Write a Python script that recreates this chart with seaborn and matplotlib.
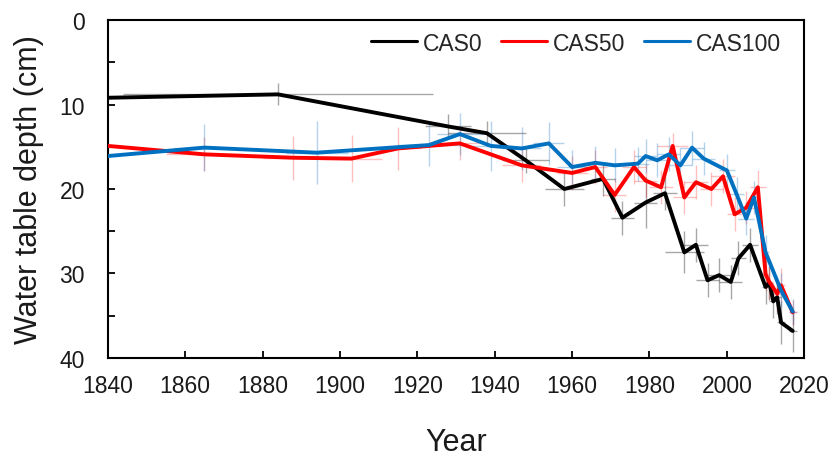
import numpy as np
import pandas as pd
import matplotlib
matplotlib.use("Agg")
import matplotlib.pyplot as plt
import seaborn as sns
from matplotlib.ticker import MultipleLocator

# ---- data ----
cas0_year = [1840, 1884, 1928, 1938, 1948, 1958, 1968, 1973, 1979, 1984, 1989, 1992,
             1995, 1998, 2001, 2003, 2006, 2010, 2011, 2012, 2013, 2014, 2017]
cas0_depth = [9.2, 8.8, 12.6, 13.4, 16.6, 20.0, 18.8, 23.4, 21.6, 20.5, 27.5, 26.6,
              30.8, 30.2, 31.0, 28.2, 26.6, 31.6, 31.1, 33.3, 32.8, 35.8, 36.8]
cas0_xerr = [0, 40, 6, 10, 6, 5, 3, 3, 3, 3, 5, 3, 3, 3, 3, 2, 2, 1, 1, 1, 1, 1, 1]
cas0_yerr = [0, 1.3, 1.5, 1.5, 1.5, 2.0, 2.0, 2.0, 3.0, 2.0, 2.5, 2.0, 2.0, 2.0, 2.0, 2.0,
             2.0, 2.0, 2.0, 2.0, 2.0, 2.5, 2.5]

cas50_year = [1840, 1865, 1888, 1903, 1915, 1931, 1947, 1960, 1966, 1971, 1976, 1979,
              1983, 1986, 1989, 1992, 1996, 1999, 2002, 2005, 2008, 2010, 2011, 2013,
              2014, 2017]
cas50_depth = [14.9, 15.9, 16.3, 16.4, 15.2, 14.6, 17.2, 18.1, 17.4, 20.7, 17.4, 19.0,
               19.8, 14.9, 21.0, 19.2, 20.0, 18.5, 23.0, 22.2, 19.8, 30.1, 31.0, 32.4,
               31.4, 34.6]
cas50_xerr = [0, 10, 8, 8, 6, 5, 5, 4, 3, 3, 3, 3, 3, 4, 3, 3, 3, 3, 2, 2, 2, 1, 1, 1, 1, 1]
cas50_yerr = [0, 2.0, 2.6, 2.8, 2.5, 2.0, 2.0, 2.0, 2.0, 2.0, 2.0, 2.0, 2.0, 1.5, 2.0, 2.0,
              2.0, 2.0, 2.0, 2.0, 2.0, 2.0, 2.0, 2.0, 2.0, 1.5]

cas100_year = [1840, 1865, 1894, 1923, 1931, 1939, 1947, 1954, 1960, 1966, 1971, 1977,
               1979, 1982, 1985, 1988, 1991, 1994, 2000, 2002.5, 2005, 2007, 2010, 2014,
               2017]
cas100_depth = [16.1, 15.1, 15.7, 14.8, 13.5, 14.9, 15.2, 14.6, 17.4, 16.9, 17.2, 17.0,
                16.1, 16.6, 15.9, 17.2, 15.1, 16.4, 17.8, 20.6, 23.5, 21.0, 27.5, 32.0,
                34.5]
cas100_xerr = [0, 8, 8, 8, 6, 6, 5, 4, 4, 3, 3, 3, 3, 3, 3, 3, 3, 3, 2, 2, 2, 1, 1, 1, 1]
cas100_yerr = [0, 2.8, 3.7, 2.5, 2.5, 3.0, 2.5, 2.5, 2.0, 2.0, 2.0, 2.0, 2.0, 2.0, 2.0,
               2.0, 2.0, 2.0, 2.0, 2.0, 2.0, 2.0, 2.0, 2.0, 1.5]

series = ["CAS0", "CAS50", "CAS100"]
colors = {"CAS0": "#000000", "CAS50": "#FF0000", "CAS100": "#0070C0"}
err_alpha = {"CAS0": 0.35, "CAS50": 0.25, "CAS100": 0.3}

df = pd.concat([
    pd.DataFrame({"Year": cas0_year, "Depth": cas0_depth, "xerr": cas0_xerr,
                  "yerr": cas0_yerr, "Series": "CAS0"}),
    pd.DataFrame({"Year": cas50_year, "Depth": cas50_depth, "xerr": cas50_xerr,
                  "yerr": cas50_yerr, "Series": "CAS50"}),
    pd.DataFrame({"Year": cas100_year, "Depth": cas100_depth, "xerr": cas100_xerr,
                  "yerr": cas100_yerr, "Series": "CAS100"}),
], ignore_index=True)

sns.set_theme(style="ticks")
plt.rcParams['font.family'] = ['Liberation Sans', 'DejaVu Sans']

fig = plt.figure(figsize=(8.35, 4.6), dpi=100)
ax = fig.add_axes([0.129, 0.2196, 0.8342, 0.7347])

# error bars (light crosses)
for s in series:
    d = df[df.Series == s]
    ax.errorbar(d.Year, d.Depth, xerr=d.xerr, yerr=d.yerr, fmt="none",
                ecolor=colors[s], alpha=err_alpha[s], elinewidth=1.0, capsize=0,
                zorder=1)

sns.lineplot(data=df, x="Year", y="Depth", hue="Series", hue_order=series,
             palette=colors, sort=False, estimator=None, linewidth=2.8,
             ax=ax, legend=False, zorder=3)

ax.set_xlim(1840, 2020)
ax.set_ylim(40, 0)
ax.xaxis.set_major_locator(MultipleLocator(20))
ax.yaxis.set_major_locator(MultipleLocator(10))
ax.yaxis.set_minor_locator(MultipleLocator(5))
ax.tick_params(axis="both", which="both", direction="in", length=5, width=1.3,
               color="black", labelsize=16.5, labelcolor="#1a1a1a")
ax.tick_params(axis="x", pad=11.5)
ax.tick_params(axis="y", pad=16.5)
for sp in ax.spines.values():
    sp.set_visible(True)
    sp.set_linewidth(1.5)
    sp.set_color("black")

ax.set_xlabel("Year", fontsize=22, color="#1a1a1a")
ax.set_ylabel("Water table depth (cm)", fontsize=22, color="#1a1a1a")
ax.xaxis.set_label_coords(0.5, -0.204)
ax.yaxis.set_label_coords(-0.0914, 0.5)

handles = [plt.Line2D([0], [0], color=colors[s], lw=2.2) for s in series]
ax.legend(handles, series, loc="center right", ncol=3, frameon=False, fontsize=16.5,
          handlelength=2.0, handletextpad=0.26, columnspacing=0.83,
          borderpad=0, borderaxespad=0, bbox_to_anchor=(0.967, 0.932))

fig.savefig("out.png", dpi=100)
